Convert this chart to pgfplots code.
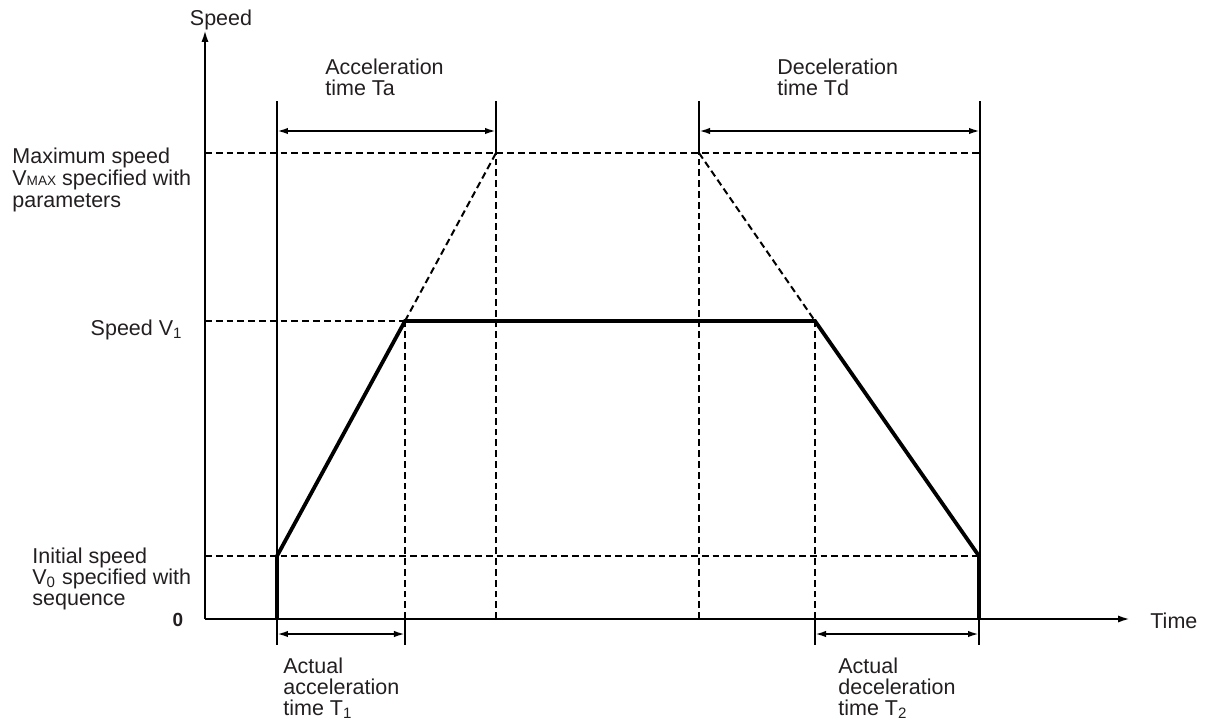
\documentclass[border=0pt]{standalone}
\usepackage{pgfplots}
\pgfplotsset{compat=1.18}
\usetikzlibrary{arrows.meta}
\usepackage{fontspec}
\setmainfont{Liberation Sans}
\definecolor{ink}{HTML}{231F20}
\begin{document}
\begin{tikzpicture}[every node/.style={inner sep=0pt, text=ink, font=\fontsize{10.75}{12}\selectfont}]
\begin{axis}[
  x=0.5pt, y=0.5pt,
  xmin=0, xmax=925, ymin=0, ymax=589,
  axis lines=left,
  axis line style={line width=1.1pt, draw=black, -{Latex[length=6pt,width=3.6pt]}},
  ticks=none,
  clip=false,
]
% bounding region
\path (axis cs:-205,-100) rectangle (axis cs:1000,619);
% speed profile
\addplot[line width=1.9pt, black, line join=miter] coordinates {(72,0) (72,63) (200,298) (610,298) (774,63) (774,0)};
% thin solid verticals
\pgfplotsset{thin/.style={line width=0.9pt, black}}
\addplot[thin] coordinates {(72,63) (72,518)};
\addplot[thin] coordinates {(291,466) (291,518)};
\addplot[thin] coordinates {(494,466) (494,518)};
\addplot[thin] coordinates {(775,63) (775,518)};
% extensions below axis
\addplot[thin] coordinates {(72,0) (72,-26)};
\addplot[thin] coordinates {(200,0) (200,-26)};
\addplot[thin] coordinates {(610,0) (610,-26)};
\addplot[thin] coordinates {(774,0) (774,-26)};
% dashed lines
\pgfplotsset{dsh/.style={line width=1pt, black, dash pattern=on 3.4pt off 2pt}}
\addplot[dsh] coordinates {(200,0) (200,298)};
\addplot[dsh] coordinates {(291,0) (291,466)};
\addplot[dsh] coordinates {(494,0) (494,466)};
\addplot[dsh] coordinates {(610,0) (610,298)};
\addplot[dsh] coordinates {(0,466) (775,466)};
\addplot[dsh] coordinates {(0,298) (200,298)};
\addplot[dsh] coordinates {(0,63) (774,63)};
\addplot[dsh] coordinates {(200,298) (291,466)};
\addplot[dsh] coordinates {(494,466) (610,298)};
% dimension arrows
\pgfplotsset{dim/.style={line width=1pt, black, {Latex[length=5.5pt,width=3.2pt]}-{Latex[length=5.5pt,width=3.2pt]}}}
\addplot[dim] coordinates {(72,488) (291,488)};
\addplot[dim] coordinates {(494,488) (775,488)};
\addplot[dim] coordinates {(72,-15) (200,-15)};
\addplot[dim] coordinates {(610,-15) (774,-15)};
% labels
\node[anchor=base] at (axis cs:16,593) {Speed};
\node[anchor=base west] at (axis cs:945,-9) {Time};
\node at (axis cs:-27,-1) {\fontsize{9.5}{10}\selectfont\bfseries 0};
\node[anchor=base west] at (axis cs:-193,456) {Maximum speed};
\node[anchor=base west] at (axis cs:-193,434) {V{\fontsize{6.8}{7}\selectfont MAX} specified with};
\node[anchor=base west] at (axis cs:-193,412) {parameters};
\node[anchor=base east] at (axis cs:-22,284) {Speed V\textsubscript{1}};
\node[anchor=base west] at (axis cs:-173,56) {Initial speed};
\node[anchor=base west] at (axis cs:-173,35) {V\textsubscript{0} specified with};
\node[anchor=base west] at (axis cs:-173,14) {sequence};
\node[anchor=base west] at (axis cs:120,545) {Acceleration};
\node[anchor=base west] at (axis cs:120,524) {time Ta};
\node[anchor=base west] at (axis cs:572,545) {Deceleration};
\node[anchor=base west] at (axis cs:572,524) {time Td};
\node[anchor=base west] at (axis cs:78,-54) {Actual};
\node[anchor=base west] at (axis cs:78,-75) {acceleration};
\node[anchor=base west] at (axis cs:78,-96) {time T\textsubscript{1}};
\node[anchor=base west] at (axis cs:633,-54) {Actual};
\node[anchor=base west] at (axis cs:633,-75) {deceleration};
\node[anchor=base west] at (axis cs:633,-96) {time T\textsubscript{2}};
\end{axis}
\end{tikzpicture}
\end{document}
